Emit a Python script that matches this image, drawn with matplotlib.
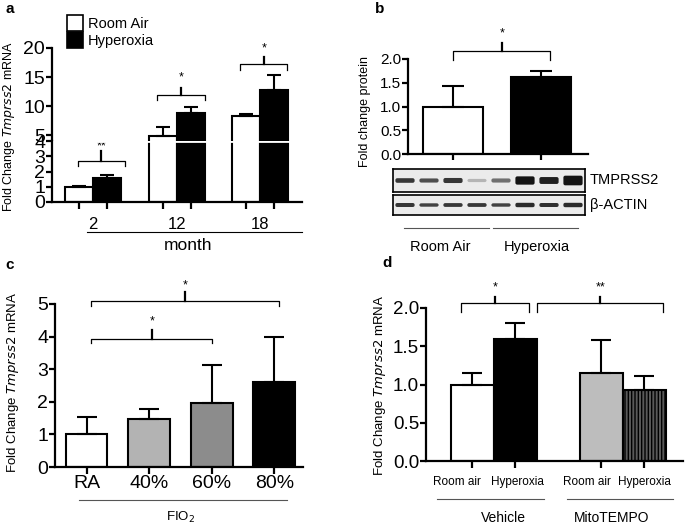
import numpy as np
import matplotlib
matplotlib.use("Agg")
import matplotlib.pyplot as plt
from matplotlib.patches import FancyBboxPatch

plt.rcParams["font.family"] = ["Liberation Sans", "DejaVu Sans"]
plt.rcParams["hatch.linewidth"] = 1.0

W, H = 685, 527

# ---- data ----
a_months = ["2", "12", "18"]
a_room = [1.0, 4.85, 8.3]
a_room_err = [0.08, 1.55, 0.3]
a_hyper = [1.6, 8.8, 12.8]
a_hyper_err = [0.2, 1.1, 2.6]
a_stars = ["**", "*", "*"]

b_groups = ["Room Air", "Hyperoxia"]
b_vals = [1.0, 1.62]
b_err = [0.44, 0.13]
blot_tmprss2 = [0.85, 0.75, 0.85, 0.3, 0.6, 1.0, 0.95, 1.0]
blot_tmprss2_w = [0.2, 0.18, 0.22, 0.14, 0.18, 0.36, 0.3, 0.42]
blot_actin = [0.85, 0.8, 0.85, 0.85, 0.8, 0.9, 0.88, 0.9]
blot_actin_w = [0.2, 0.17, 0.19, 0.19, 0.17, 0.22, 0.2, 0.22]

c_labels = ["RA", "40%", "60%", "80%"]
c_vals = [1.0, 1.48, 1.97, 2.62]
c_err = [0.52, 0.31, 1.17, 1.37]
c_colors = ["white", "#b3b3b3", "#8c8c8c", "black"]

d_labels = ["Room air", "Hyperoxia", "Room air", "Hyperoxia"]
d_pos = [0, 1, 3, 4]
d_label_pos = [-0.35, 1.05, 2.68, 4.0]
d_vals = [1.0, 1.59, 1.15, 0.93]
d_err = [0.15, 0.21, 0.43, 0.18]
d_colors = ["white", "black", "#bdbdbd", "#5a5a5a"]
d_hatch = [None, None, None, "|||||"]


def box(l, t, r, b):
    return [l / W, 1 - b / H, (r - l) / W, (b - t) / H]


def style(ax, fs, spines=("left", "bottom")):
    for s in ["left", "right", "top", "bottom"]:
        ax.spines[s].set_visible(s in spines)
        ax.spines[s].set_linewidth(1.6)
    ax.tick_params(width=1.6, length=4, labelsize=fs, pad=1)


def bracket(ax, x0, x1, y, drop, rise, star, star_y, xm=None):
    if xm is None:
        xm = (x0 + x1) / 2
    ax.plot([x0, x0, x1, x1], [y - drop, y, y, y - drop], color="black", lw=0.9, clip_on=False)
    ax.plot([xm, xm], [y, y + rise], color="black", lw=1.6, clip_on=False)
    ax.text(xm, star_y, star, ha="center", va="center", fontsize=9, clip_on=False)


def underline(ax, x0, x1, y, color="black"):
    ax.plot([x0, x1], [y, y], color=color, lw=0.8, clip_on=False,
            transform=ax.get_xaxis_transform())


fig = plt.figure(figsize=(W / 100, H / 100), dpi=100)

# ---------------- panel a ----------------
bw = 0.335
x = np.arange(len(a_months))
ax_up = fig.add_axes(box(52, 48, 302, 141))
ax_lo = fig.add_axes(box(52, 141, 302, 202))
for ax, lim in [(ax_up, (4, 20)), (ax_lo, (0, 4))]:
    ax.bar(x - bw / 2, a_room, bw, color="white", edgecolor="black", lw=1.5)
    ax.bar(x + bw / 2, a_hyper, bw, color="black", edgecolor="black", lw=1.5)
    ax.errorbar(x - bw / 2, a_room, yerr=[np.zeros(3), a_room_err], fmt="none",
                ecolor="black", elinewidth=1.5, capsize=5, capthick=1.5)
    ax.errorbar(x + bw / 2, a_hyper, yerr=[np.zeros(3), a_hyper_err], fmt="none",
                ecolor="black", elinewidth=1.5, capsize=5, capthick=1.5)
    ax.set_ylim(*lim)
    ax.set_xlim(-0.49, 2.5)
style(ax_up, 14, ("left",))
style(ax_lo, 14)
ax_up.set_yticks([5, 10, 15, 20])
ax_up.set_xticks([])
ax_lo.set_yticks([0, 1, 2, 3, 4])
ax_lo.set_xticks(x)
ax_lo.set_xticklabels(a_months, fontsize=12)
ax_lo.tick_params(axis="x", length=0, pad=11)
ax_lo.set_xticks(np.concatenate([x - bw / 2, x + bw / 2]), minor=True)
ax_lo.tick_params(axis="x", which="minor", length=5, width=1.6)
# break mark
ax_lo.axhline(4, xmin=0.02, xmax=1, color="white", lw=2, zorder=5)
ax_lo.plot([-0.05, 0.03], [4, 4], transform=ax_lo.transAxes, color="black",
           lw=2.5, clip_on=False, zorder=6)
bracket(ax_lo, -0.18, 0.38, 2.67, 0.33, 0.66, a_stars[0], 3.65, xm=0.1)
bracket(ax_up, 0.76, 1.34, 11.9, 0.85, 1.2, a_stars[1], 15.0, xm=1.05)
bracket(ax_up, 1.76, 2.32, 17.3, 1.1, 1.2, a_stars[2], 19.9, xm=2.05)
underline(ax_lo, -0.07, 2.5, -0.49)
ax_lo.text(1.14, -0.72, "month", transform=ax_lo.get_xaxis_transform(),
           ha="center", va="center", fontsize=12.5)
ax_up.legend(handles=[plt.Rectangle((0, 0), 1, 1, fc="white", ec="black", lw=1.2),
                      plt.Rectangle((0, 0), 1, 1, fc="black", ec="black", lw=1.2)],
             labels=["Room Air", "Hyperoxia"], loc="lower left",
             bbox_to_anchor=(0.06, 1.0), frameon=False, fontsize=10.5,
             handlelength=1.1, handleheight=1.3, handletextpad=0.35,
             labelspacing=0.1, borderaxespad=0, borderpad=0)
fig.text(9 / W, 1 - 126 / H, "Fold Change $\\it{Tmprss2}$ mRNA", rotation=90,
         ha="center", va="center", fontsize=9)
fig.text(5 / W, 1 - 9 / H, "a", fontsize=11, fontweight="bold", va="center")

# ---------------- panel b ----------------
ax_b = fig.add_axes(box(408, 59, 588, 154))
xb = np.arange(2)
ax_b.bar(xb, b_vals, 0.68, color=["white", "black"], edgecolor="black", lw=1.5)
ax_b.errorbar(xb, b_vals, yerr=[np.zeros(2), b_err], fmt="none", ecolor="black",
              elinewidth=1.5, capsize=8, capthick=1.5)
ax_b.set_xlim(-0.51, 1.53)
ax_b.set_ylim(0, 2)
style(ax_b, 11)
ax_b.set_yticks([0, 0.5, 1.0, 1.5, 2.0])
ax_b.set_yticklabels(["0.0", "0.5", "1.0", "1.5", "2.0"])
ax_b.set_xticks(xb)
ax_b.set_xticklabels([])
bracket(ax_b, 0.0, 1.1, 2.17, 0.19, 0.17, "*", 2.53, xm=0.56)
fig.text(365 / W, 1 - 111 / H, "Fold change protein", rotation=90,
         ha="center", va="center", fontsize=9)
fig.text(375 / W, 1 - 9 / H, "b", fontsize=11, fontweight="bold", va="center")

for (t, btm), vals, widths, name in [((169, 192), blot_tmprss2, blot_tmprss2_w, "TMPRSS2"),
                                     ((195, 215), blot_actin, blot_actin_w, "β-ACTIN")]:
    axw = fig.add_axes(box(393, t, 585, btm))
    axw.set_xlim(0, 8)
    axw.set_ylim(0, 1)
    axw.set_facecolor("#ebebeb")
    axw.set_xticks([])
    axw.set_yticks([])
    for s in axw.spines.values():
        s.set_linewidth(1.2)
    for i, (v, w) in enumerate(zip(vals, widths)):
        g = 0.9 * (1 - v) + 0.08
        axw.add_patch(FancyBboxPatch((i + 0.1, 0.5 - w / 2), 0.8, w,
                                     boxstyle="round,pad=0,rounding_size=0.08",
                                     mutation_aspect=1.0, fc=(g, g, g), ec="none"))
    fig.text(590 / W, 1 - (t + btm) / 2 / H, name, fontsize=10.5, va="center")

ax_b.plot([-0.55, 0.41], [-0.78, -0.78], color="#555555", lw=0.8, clip_on=False,
          transform=ax_b.get_xaxis_transform())
ax_b.plot([0.45, 1.42], [-0.78, -0.78], color="#555555", lw=0.8, clip_on=False,
          transform=ax_b.get_xaxis_transform())
for xx, lab in zip([-0.15, 0.95], b_groups):
    ax_b.text(xx, -0.98, lab, transform=ax_b.get_xaxis_transform(),
              ha="center", va="center", fontsize=10.5)

# ---------------- panel c ----------------
ax_c = fig.add_axes(box(55, 304, 303, 467))
xc = np.arange(4)
ax_c.bar(xc, c_vals, 0.67, color=c_colors, edgecolor="black", lw=1.5)
ax_c.errorbar(xc, c_vals, yerr=[np.zeros(4), c_err], fmt="none", ecolor="black",
              elinewidth=1.5, capsize=7, capthick=1.5)
ax_c.set_xlim(-0.504, 3.46)
ax_c.set_ylim(0, 5)
style(ax_c, 14)
ax_c.set_yticks([0, 1, 2, 3, 4, 5])
ax_c.set_xticks(xc)
ax_c.set_xticklabels(c_labels)
ax_c.tick_params(axis="x", length=5, pad=1)
bracket(ax_c, 0.07, 2.0, 3.93, 0.13, 0.27, "*", 4.48, xm=1.05)
bracket(ax_c, 0.07, 3.08, 5.09, 0.15, 0.28, "*", 5.58, xm=1.57)
underline(ax_c, -0.12, 3.21, -0.20, "#555555")
ax_c.text(1.5, -0.31, "FIO$_2$", transform=ax_c.get_xaxis_transform(),
          ha="center", va="center", fontsize=9.5)
fig.text(13 / W, 1 - 382 / H, "Fold Change $\\it{Tmprss2}$ mRNA", rotation=90,
         ha="center", va="center", fontsize=9.5)
fig.text(5 / W, 1 - 265 / H, "c", fontsize=11, fontweight="bold", va="center")

# ---------------- panel d ----------------
ax_d = fig.add_axes(box(426, 308, 683, 461))
for p, v, e, c, h in zip(d_pos, d_vals, d_err, d_colors, d_hatch):
    ax_d.bar(p, v, 1.0, color=c, edgecolor="black", lw=1.5, hatch=h)
ax_d.errorbar(d_pos, d_vals, yerr=[np.zeros(4), d_err], fmt="none", ecolor="black",
              elinewidth=1.5, capsize=7, capthick=1.5)
ax_d.set_xlim(-1.07, 4.9)
ax_d.set_ylim(0, 2)
style(ax_d, 13.5)
ax_d.set_yticks([0, 0.5, 1.0, 1.5, 2.0])
ax_d.set_yticklabels(["0.0", "0.5", "1.0", "1.5", "2.0"])
ax_d.set_xticks(d_pos)
ax_d.set_xticklabels([])
ax_d.tick_params(axis="x", length=5)
for xx, lab in zip(d_label_pos, d_labels):
    ax_d.text(xx, -0.14, lab, transform=ax_d.get_xaxis_transform(),
              ha="center", va="center", fontsize=8.5)
bracket(ax_d, -0.26, 1.33, 2.07, 0.12, 0.08, "*", 2.27, xm=0.53)
bracket(ax_d, 1.51, 4.44, 2.07, 0.12, 0.08, "**", 2.27, xm=2.98)
underline(ax_d, -0.81, 1.67, -0.25, "#555555")
underline(ax_d, 2.2, 4.67, -0.25, "#555555")
ax_d.text(0.72, -0.37, "Vehicle", transform=ax_d.get_xaxis_transform(),
          ha="center", va="center", fontsize=10)
ax_d.text(3.25, -0.37, "MitoTEMPO", transform=ax_d.get_xaxis_transform(),
          ha="center", va="center", fontsize=10)
fig.text(380 / W, 1 - 385 / H, "Fold Change $\\it{Tmprss2}$ mRNA", rotation=90,
         ha="center", va="center", fontsize=9.5)
fig.text(382 / W, 1 - 263 / H, "d", fontsize=11, fontweight="bold", va="center")

fig.savefig("out.png", dpi=100)
